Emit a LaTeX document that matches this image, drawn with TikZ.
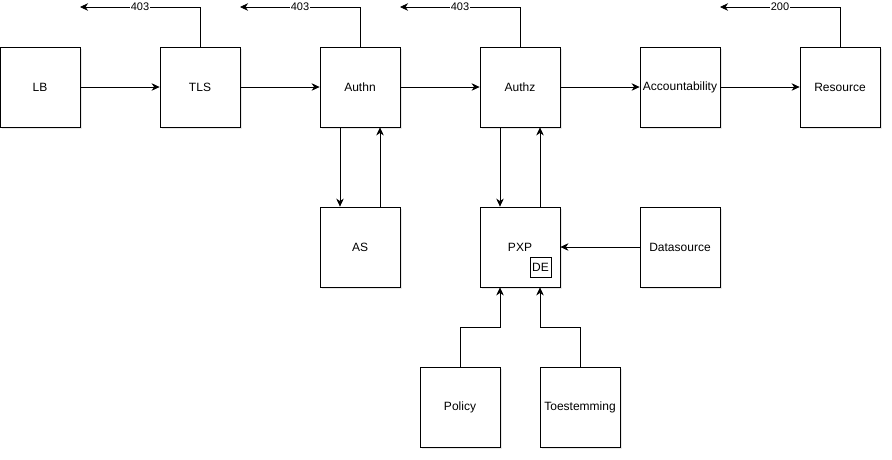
\documentclass[tikz,border=0pt]{standalone}
\usepackage{fontspec}
\setmainfont{Liberation Sans}
\usetikzlibrary{arrows.meta,shadows}
\begin{document}
\begin{tikzpicture}[x=1pt,y=-1pt,
  box/.style={draw=black,fill=white,line width=0.8pt,minimum width=80pt,minimum height=80pt,inner sep=0pt,
    font=\fontsize{12}{14}\selectfont,
    drop shadow={opacity=0.18,shadow xshift=2pt,shadow yshift=-2pt}},
  conn/.style={line width=0.8pt,-{Stealth[length=8pt,width=7.5pt,inset=2.5pt]}},
  lbl/.style={fill=white,inner sep=1pt,font=\fontsize{11}{12}\selectfont}]
\useasboundingbox (0,0) rectangle (892,459);
\node[box] (lb) at (40,87) {LB};
\node[box] (tls) at (200,87) {TLS};
\node[box] (authn) at (360,87) {Authn};
\node[box] (authz) at (520,87) {Authz};
\node[box] (acc) at (680,87) {Accountability};
\node[box] (res) at (840,87) {Resource};
\node[box] (as) at (360,247) {AS};
\node[box] (pxp) at (520,247) {PXP};
\node[box] (ds) at (680,247) {Datasource};
\node[box] (pol) at (460,407) {Policy};
\node[box] (toe) at (580,407) {Toestemming};
\node[draw=black,line width=0.8pt,minimum width=21pt,minimum height=20pt,inner sep=0pt,font=\fontsize{12}{14}\selectfont] (de) at (540.5,267) {DE};
\coordinate (r1) at (80,7);
\coordinate (r2) at (240,7);
\coordinate (r3) at (400,7);
\coordinate (r4) at (720,7);
\draw[conn] (lb) -- (tls);
\draw[conn] (tls) -- (authn);
\draw[conn] (authn) -- (authz);
\draw[conn] (authz) -- (acc);
\draw[conn] (acc) -- (res);
\draw[conn] (tls.north) |- (r1) node[lbl,pos=0.75] {403};
\draw[conn] (authn.north) |- (r2) node[lbl,pos=0.75] {403};
\draw[conn] (authz.north) |- (r3) node[lbl,pos=0.75] {403};
\draw[conn] (res.north) |- (r4) node[lbl,pos=0.75] {200};
\draw[conn] ([xshift=-20pt]authn.south) -- ([xshift=-20pt]as.north);
\draw[conn] ([xshift=20pt]as.north) -- ([xshift=20pt]authn.south);
\draw[conn] ([xshift=-20pt]authz.south) -- ([xshift=-20pt]pxp.north);
\draw[conn] ([xshift=20pt]pxp.north) -- ([xshift=20pt]authz.south);
\draw[conn] (ds) -- (pxp);
\draw[conn] (pol.north) |- (500,327) -- ([xshift=-20pt]pxp.south);
\draw[conn] (toe.north) |- (540,327) -- ([xshift=20pt]pxp.south);
\end{tikzpicture}
\end{document}
